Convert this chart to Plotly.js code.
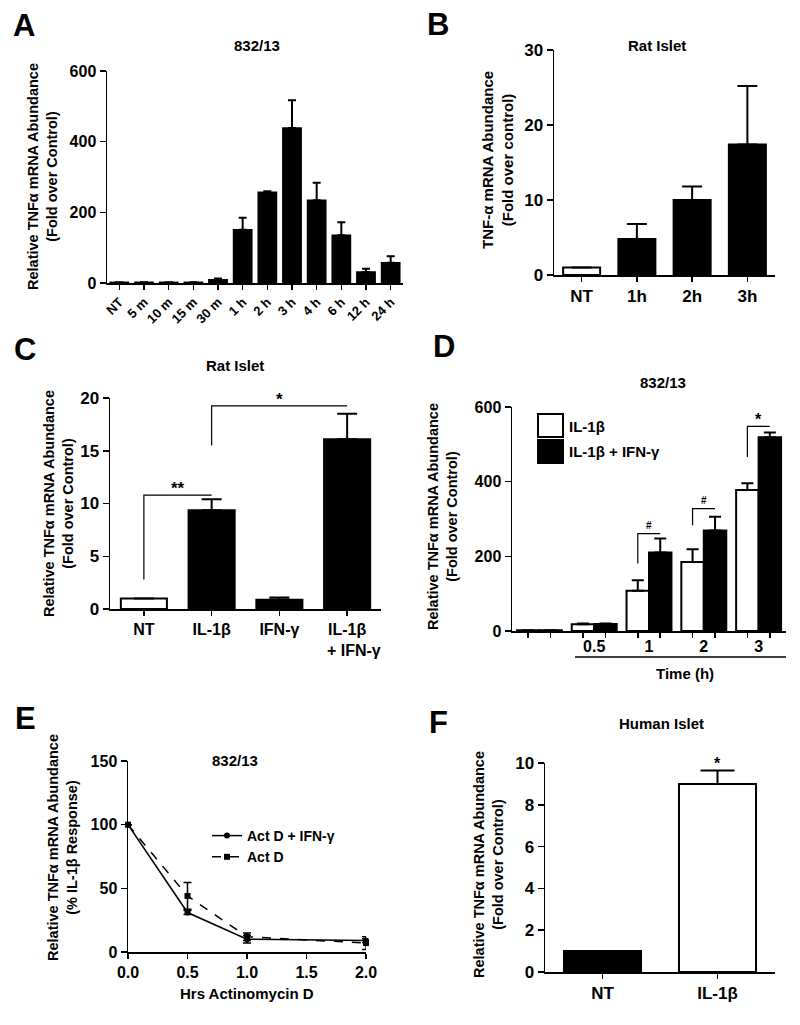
<!DOCTYPE html>
<html>
<head>
<meta charset="utf-8">
<script src="https://cdn.plot.ly/plotly-3.0.1.min.js"></script>
<style>html,body{margin:0;padding:0;background:#fff;}#chart{width:800px;height:1025px;}</style>
</head>
<body>
<div id="chart"></div>
<script>
// ---------- DATA ----------
// Panel A: 832/13 time course
const catsA = ['NT','5 m','10 m','15 m','30 m','1 h','2 h','3 h','4 h','6 h','12 h','24 h'];
const valsA = [2, 2, 2, 2, 9, 151, 257, 439, 234, 135, 31, 57];
const errA  = [0, 0, 0, 0, 4, 34, 3, 78, 50, 37, 9, 19];

// Panel B: Rat Islet time course
const catsB = ['NT','1h','2h','3h'];
const valsB = [1, 4.8, 10, 17.4];
const errB  = [0, 2.0, 1.8, 7.8];
const fillB = ['white','black','black','black'];

// Panel C: Rat Islet treatments
const catsC = ['NT','IL-1β','IFN-γ','IL-1β<br>\u00a0\u00a0\u00a0+ IFN-γ'];
const valsC = [1, 9.35, 0.88, 16.1];
const errC  = [0, 1.05, 0.2, 2.4];
const fillC = ['white','black','black','black'];
const bracketsC = [
  {from: 0, to: 1, base: 2.8,  top: 10.8,  label: '**'},
  {from: 1, to: 3, base: 15.5, top: 19.25, label: '*'}
];

// Panel D: 832/13 IL-1β vs IL-1β + IFN-γ
const groupsD = ['', '0.5', '1', '2', '3'];
const nameD1 = 'IL-1β';
const nameD2 = 'IL-1β + IFN-γ';
const valsD1 = [2, 18, 108, 185, 378];
const errD1  = [0, 2, 28, 34, 18];
const valsD2 = [2, 19, 210, 269, 519];
const errD2  = [0, 1, 38, 37, 13];
const bracketsD = [
  {group: 2, base: 181, top: 261, label: '#'},
  {group: 3, base: 283, top: 328, label: '#'},
  {group: 4, base: 466, top: 548, label: '*'}
];

// Panel E: Actinomycin D decay
const hrsE = [0, 0.5, 1.0, 2.0];
const nameE1 = 'Act D + IFN-γ';
const valsE1 = [100, 31, 10, 9];
const errE1  = [0, 1.5, 3, 1.5];
const nameE2 = 'Act D';
const valsE2 = [100, 44, 12, 7];
const errE2  = [0, 10.5, 3, 5];

// Panel F: Human Islet
const catsF = ['NT','IL-1β'];
const valsF = [1, 9.0];
const errF  = [0, 0.64];
const fillF = ['black','white'];

// ---------- LAYOUT HELPERS ----------
const W = 800, H = 1025;
const px = x => x / W;
const py = y => 1 - y / H;
const FONT = 'Arial, "Liberation Sans", Helvetica, sans-serif';
const idx = arr => arr.map((_, i) => i);
const upErr = (arr, w) => ({type: 'data', symmetric: false, array: arr, arrayminus: arr.map(() => 0),
  color: 'black', thickness: 2, width: w});

const traces = [];
// A
traces.push({type: 'bar', x: idx(catsA), y: valsA, xaxis: 'x', yaxis: 'y', width: 0.74,
  marker: {color: 'black', line: {color: 'black', width: 1.5}}, error_y: upErr(errA, 4), showlegend: false});
// B
traces.push({type: 'bar', x: idx(catsB), y: valsB, xaxis: 'x2', yaxis: 'y2', width: 0.67,
  marker: {color: fillB, line: {color: 'black', width: 2}}, error_y: upErr(errB, 10), showlegend: false});
// C
traces.push({type: 'bar', x: idx(catsC), y: valsC, xaxis: 'x3', yaxis: 'y3', width: 0.68,
  marker: {color: fillC, line: {color: 'black', width: 2}}, error_y: upErr(errC, 10), showlegend: false});
// D
const BW = 0.41;
traces.push({type: 'bar', name: nameD1, x: idx(groupsD), y: valsD1, xaxis: 'x4', yaxis: 'y4', width: BW, offset: -BW,
  marker: {color: 'white', line: {color: 'black', width: 2}}, error_y: upErr(errD1, 6), showlegend: false});
traces.push({type: 'bar', name: nameD2, x: idx(groupsD), y: valsD2, xaxis: 'x4', yaxis: 'y4', width: BW, offset: 0,
  marker: {color: 'black', line: {color: 'black', width: 2}}, error_y: upErr(errD2, 6), showlegend: false});
// E
traces.push({type: 'scatter', mode: 'lines+markers', name: nameE1, x: hrsE, y: valsE1, xaxis: 'x5', yaxis: 'y5',
  line: {color: 'black', width: 1.5}, marker: {symbol: 'circle', size: 6, color: 'black'}, cliponaxis: false,
  error_y: {type: 'data', array: errE1, color: 'black', thickness: 1.5, width: 4}, legend: 'legend'});
traces.push({type: 'scatter', mode: 'lines+markers', name: nameE2, x: hrsE, y: valsE2, xaxis: 'x5', yaxis: 'y5',
  line: {color: 'black', width: 1.5, dash: 'dash'}, marker: {symbol: 'square', size: 6, color: 'black'}, cliponaxis: false,
  error_y: {type: 'data', array: errE2, color: 'black', thickness: 1.5, width: 4}, legend: 'legend'});
// F
traces.push({type: 'bar', x: idx(catsF), y: valsF, xaxis: 'x6', yaxis: 'y6', width: 0.67,
  marker: {color: fillF, line: {color: 'black', width: 2}}, error_y: upErr(errF, 17), showlegend: false});

const tickFont = s => ({family: FONT, size: s, color: 'black', weight: 'bold'});
function xAx(dom, yname, cats, tfs, extra) {
  return Object.assign({domain: [px(dom[0]), px(dom[1])], anchor: yname, range: [-0.5, cats.length - 0.5],
    tickmode: 'array', tickvals: idx(cats), ticktext: cats, ticks: 'outside', ticklen: 5, tickwidth: 1.5,
    tickcolor: 'black', showline: true, linecolor: 'black', linewidth: 1.5, showgrid: false, zeroline: false,
    tickfont: tickFont(tfs), fixedrange: true}, extra || {});
}
function yAx(dom, xname, range, dtick, tfs) {
  return {domain: [py(dom[1]), py(dom[0])], anchor: xname, range: range, dtick: dtick, tick0: 0,
    ticks: 'outside', ticklen: 6, tickwidth: 1.5, tickcolor: 'black', showline: true, linecolor: 'black',
    linewidth: 1.5, showgrid: false, zeroline: false, tickfont: tickFont(tfs), fixedrange: true};
}

const ann = [];
const shapes = [];
function txt(text, x, y, size, extra) {
  ann.push(Object.assign({text: text, x: px(x), y: py(y), xref: 'paper', yref: 'paper', showarrow: false,
    font: {family: FONT, size: size, color: 'black', weight: 'bold'}, xanchor: 'center', yanchor: 'middle'}, extra || {}));
}
// panel letters
txt('A', 24, 25, 31); txt('B', 438, 24, 31); txt('C', 25, 349, 31);
txt('D', 444, 346, 31); txt('E', 25, 718, 31); txt('F', 439, 722, 31);
// panel titles
txt('832/13', 257, 45, 15); txt('Rat Islet', 657, 45, 15); txt('Rat Islet', 235, 365, 15);
txt('832/13', 663, 382, 15); txt('832/13', 235, 760, 15); txt('Human Islet', 661, 723, 15);
// y-axis titles
const yt = {textangle: -90};
txt('Relative TNFα mRNA Abundance<br>(Fold over Control)', 43, 177, 14.5, yt);
txt('TNF-α mRNA Abundance<br>(Fold over control)', 497, 160, 15, yt);
txt('Relative TNFα mRNA Abundance<br>(Fold over Control)', 58, 503, 14.5, yt);
txt('Relative TNFα mRNA Abundance<br>(Fold over Control)', 442, 517, 14.5, yt);
txt('Relative TNFα mRNA Abundance<br>(% IL-1β Response)', 62, 848, 14.5, yt);
txt('Relative TNFα mRNA Abundance<br>(Fold over Control)', 488, 865, 14.5, yt);
// x-axis titles
txt('Time (h)', 685, 673, 15);
txt('Hrs Actinomycin D', 247, 993, 15);
// D: time line under group labels
shapes.push({type: 'line', xref: 'x4', yref: 'paper', x0: 0.65, x1: 4.5, y0: py(657), y1: py(657),
  line: {color: 'black', width: 1.5}});

// brackets
const bl = {color: 'black', width: 1.2};
bracketsC.forEach(b => {
  shapes.push({type: 'path', xref: 'x3', yref: 'y3',
    path: `M ${b.from} ${b.base} L ${b.from} ${b.top} L ${b.to} ${b.top}`, line: bl});
  ann.push({text: b.label, x: (b.from + b.to) / 2, y: b.top, xref: 'x3', yref: 'y3', showarrow: false,
    yanchor: 'bottom', yshift: -5, font: {family: FONT, size: 17, color: 'black', weight: 'bold'}});
});
bracketsD.forEach(b => {
  const x0 = b.group - BW / 2, x1 = b.group + BW / 2;
  shapes.push({type: 'path', xref: 'x4', yref: 'y4',
    path: `M ${x0} ${b.base} L ${x0} ${b.top} L ${x1} ${b.top}`, line: bl});
  ann.push({text: b.label, x: b.group, y: b.top, xref: 'x4', yref: 'y4', showarrow: false,
    yanchor: 'bottom', yshift: b.label === '#' ? 1 : -4,
    font: {family: FONT, size: b.label === '#' ? 10 : 16, color: 'black', weight: 'bold'}});
});
// F significance
ann.push({text: '*', x: 1, y: valsF[1] + errF[1], xref: 'x6', yref: 'y6', showarrow: false,
  yanchor: 'bottom', yshift: -3, font: {family: FONT, size: 16, color: 'black', weight: 'bold'}});

// D legend (manual swatches)
shapes.push({type: 'rect', xref: 'paper', yref: 'paper', x0: px(538), x1: px(563), y0: py(437), y1: py(414),
  fillcolor: 'white', line: {color: 'black', width: 2}});
shapes.push({type: 'rect', xref: 'paper', yref: 'paper', x0: px(538), x1: px(563), y0: py(463), y1: py(440),
  fillcolor: 'black', line: {color: 'black', width: 2}});
txt(nameD1, 567, 427, 15, {xanchor: 'left'});
txt(nameD2, 567, 452, 15, {xanchor: 'left'});

const layout = {
  width: W, height: H, margin: {l: 0, r: 0, t: 0, b: 0}, paper_bgcolor: 'white', plot_bgcolor: 'rgba(0,0,0,0)',
  barmode: 'overlay', font: {family: FONT, color: 'black'},
  xaxis: xAx([107, 403], 'y', catsA, 13, {tickangle: -45}),
  yaxis: yAx([71, 283], 'x', [0, 600], 200, 16),
  xaxis2: xAx([554, 775], 'y2', catsB, 17),
  yaxis2: yAx([50, 275], 'x2', [0, 30], 10, 17),
  xaxis3: xAx([110, 381], 'y3', catsC, 16),
  yaxis3: yAx([398, 609], 'x3', [0, 20], 5, 17),
  xaxis4: xAx([512, 786], 'y4', groupsD, 16, {ticks: '', ticklen: 0,
    minor: {tickmode: 'array', tickvals: idx(groupsD).flatMap(g => [g - BW / 2, g + BW / 2]), ticks: 'outside',
      ticklen: 5, tickwidth: 1.5, tickcolor: 'black', showgrid: false}}),
  yaxis4: yAx([407, 631], 'x4', [0, 600], 200, 16),
  xaxis5: {domain: [px(128), px(366)], anchor: 'y5', range: [0, 2], dtick: 0.5, tick0: 0, tickformat: '.1f',
    ticks: 'outside', ticklen: 5, tickwidth: 1.5, tickcolor: 'black', showline: true, linecolor: 'black',
    linewidth: 1.5, showgrid: false, zeroline: false, tickfont: tickFont(16), fixedrange: true},
  yaxis5: yAx([761, 952], 'x5', [0, 150], 50, 16),
  xaxis6: xAx([545, 775], 'y6', catsF, 17),
  yaxis6: yAx([763, 972], 'x6', [0, 10], 2, 17),
  legend: {x: px(207), y: py(820), xanchor: 'left', yanchor: 'top', bgcolor: 'rgba(0,0,0,0)',
    font: {family: FONT, size: 14, color: 'black', weight: 'bold'}, itemwidth: 30, tracegroupgap: 0},
  annotations: ann, shapes: shapes, showlegend: true
};

Plotly.newPlot('chart', traces, layout, {staticPlot: true, displayModeBar: false});
</script>
</body>
</html>
